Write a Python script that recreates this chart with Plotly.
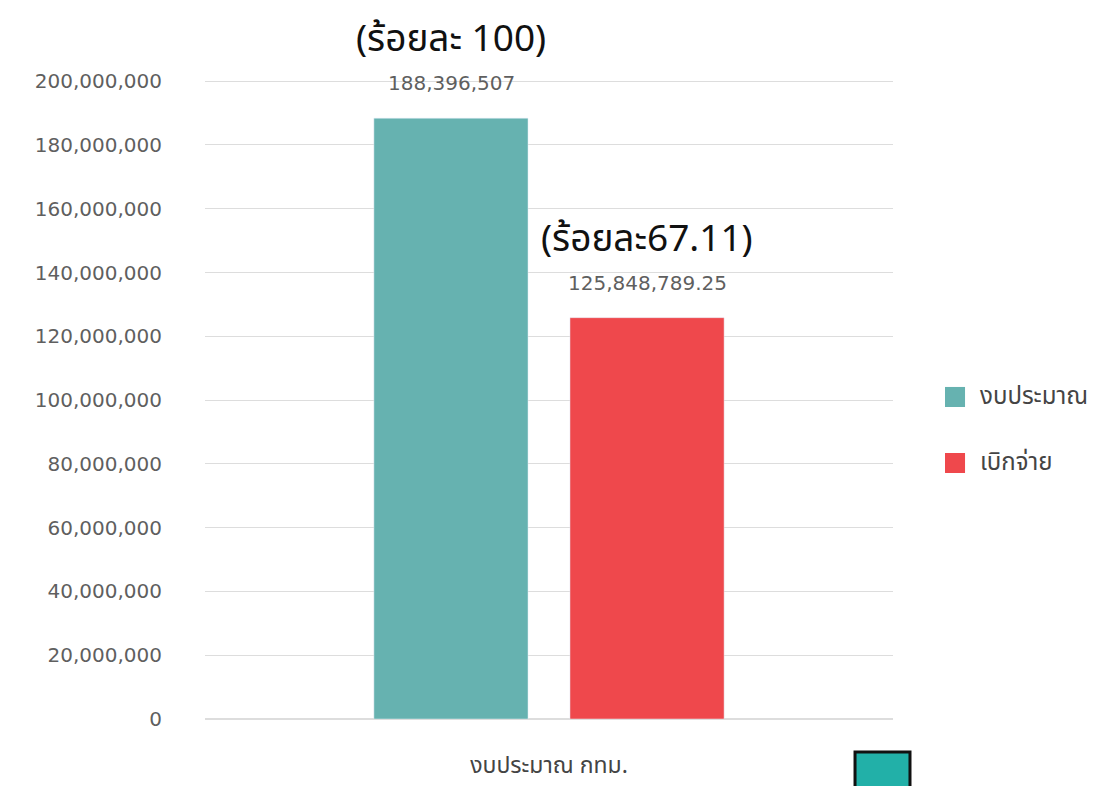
import plotly.graph_objects as go

categories = ["งบประมาณ กทม."]
series_names = ["งบประมาณ", "เบิกจ่าย"]
budget = [188396507]
spent = [125848789.25]
budget_text = ["188,396,507"]
spent_text = ["125,848,789.25"]
percent_labels = ["(ร้อยละ 100)", "(ร้อยละ67.11)"]
tick_vals = [0, 20e6, 40e6, 60e6, 80e6, 100e6, 120e6, 140e6, 160e6, 180e6, 200e6]
tick_text = ["0", "20,000,000", "40,000,000", "60,000,000", "80,000,000", "100,000,000",
             "120,000,000", "140,000,000", "160,000,000", "180,000,000", "200,000,000"]

colors = ["#66b2b0", "#ef484c"]
FONT = "Noto Sans Thai, Noto Sans, sans-serif"
NUMFONT = "DejaVu Sans, Noto Sans Thai, sans-serif"

values = [budget, spent]
texts = [budget_text, spent_text]
fig = go.Figure()
for i in range(2):
    fig.add_trace(go.Bar(name=series_names[i], x=categories, y=values[i], marker_color=colors[i],
                         offsetgroup=i, showlegend=False, hoverinfo="x+y"))

# value and percent labels above bars
xshifts = [-98, 98]
for i in range(2):
    fig.add_annotation(x=categories[0], y=values[i][0], xref="x", yref="y", text=texts[i][0],
                       showarrow=False, yshift=35, xshift=xshifts[i], yanchor="middle",
                       font=dict(size=20, color="#5f5f5f", family=NUMFONT))
    fig.add_annotation(x=categories[0], y=values[i][0], xref="x", yref="y", text=percent_labels[i],
                       showarrow=False, yshift=78, xshift=xshifts[i], yanchor="middle",
                       font=dict(size=37, color="#111111", family=FONT))

# custom legend
leg_sq = [(0.518, 0.4867), (0.415, 0.3838)]
leg_txt_y = [0.5023, 0.3994]
for i in range(2):
    fig.add_shape(type="rect", xref="paper", yref="paper", x0=1.0756, x1=1.1047,
                  y0=leg_sq[i][1], y1=leg_sq[i][0], fillcolor=colors[i], line=dict(width=0))
    fig.add_annotation(xref="paper", yref="paper", x=1.1235, y=leg_txt_y[i], text=series_names[i],
                       showarrow=False, xanchor="left", yanchor="middle",
                       font=dict(size=24, color="#444444", family=FONT))

# decorative square at bottom right
fig.add_shape(type="rect", xref="paper", yref="paper", x0=0.9448, x1=1.0247, y0=-0.13, y1=-0.0515,
              fillcolor="#22b0a8", line=dict(color="#111111", width=3))

fig.update_layout(
    width=1096, height=786,
    paper_bgcolor="white", plot_bgcolor="white",
    margin=dict(l=197, r=211, t=70, b=75),
    barmode="group", bargap=0.43, bargroupgap=0.214,
    font=dict(family=FONT, size=21, color="#555555"),
    showlegend=False,
    yaxis=dict(range=[0, 201e6], tickvals=tick_vals, ticktext=tick_text,
               showgrid=True, gridcolor="#dddddd", gridwidth=1, zeroline=True,
               zerolinecolor="#dddddd", ticks="", ticklabelstandoff=42, automargin=False,
               tickfont=dict(size=20, color="#5f5f5f", family=NUMFONT)),
    xaxis=dict(showgrid=False, tickfont=dict(size=23, color="#444444"), ticklabelstandoff=30,
               automargin=False),
)

fig.write_html("out.html")
